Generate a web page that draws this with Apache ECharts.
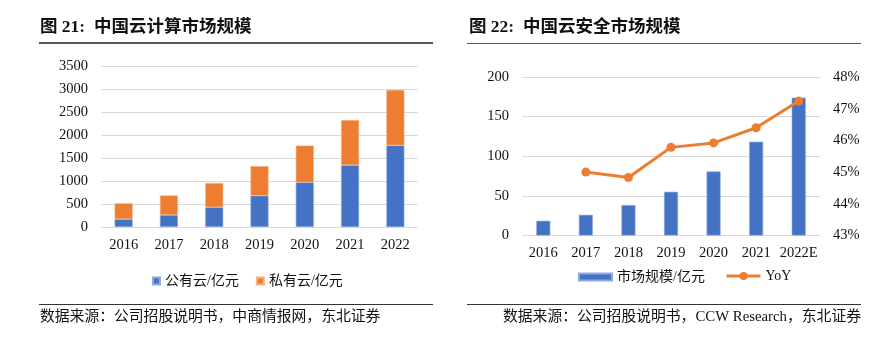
<!DOCTYPE html>
<html><head><meta charset="utf-8">
<script src="https://cdn.jsdelivr.net/npm/echarts@6/dist/echarts.min.js"></script>
<style>html,body{margin:0;padding:0;background:#fff}#c{width:888px;height:338px}</style>
</head><body><div id="c"></div>
<script>
const years1 = ['2016','2017','2018','2019','2020','2021','2022'];
const publicCloud = [170, 260, 430, 680, 970, 1345, 1775];
const privateCloud = [345, 425, 525, 645, 800, 980, 1205];
const years2 = ['2016','2017','2018','2019','2020','2021','2022E'];
const securityMarket = [18.6, 26.1, 38.4, 55.2, 80.8, 118.3, 173.9];
const yoy = [null, 45.0, 44.83, 45.78, 45.92, 46.40, 47.24];

const FONT = '"Liberation Serif","Noto Sans CJK SC",serif';
const BLUE = '#4472C4', ORANGE = '#ED7D31';
const lbl = {fontFamily: FONT, fontSize: 14.5, color: '#111'};
const legText = {fontFamily: FONT, fontSize: 14, color: '#111'};
const chart = echarts.init(document.getElementById('c'), null, {renderer: 'canvas'});
chart.setOption({
  animation: false,
  textStyle: {fontFamily: FONT},
  graphic: [
    {type: 'text', left: 40, top: 19, style: {text: '图 21:  中国云计算市场规模', font: 'bold 17.5px ' + FONT, fill: '#111'}},
    {type: 'line', shape: {x1: 39, y1: 43, x2: 433, y2: 43}, style: {stroke: '#595959', lineWidth: 2}},
    {type: 'text', left: 469, top: 19, style: {text: '图 22:  中国云安全市场规模', font: 'bold 17.5px ' + FONT, fill: '#111'}},
    {type: 'line', shape: {x1: 467, y1: 43.5, x2: 861, y2: 43.5}, style: {stroke: '#595959', lineWidth: 1}},
    {type: 'line', shape: {x1: 39, y1: 304.5, x2: 433, y2: 304.5}, style: {stroke: '#333', lineWidth: 1}},
    {type: 'line', shape: {x1: 467, y1: 304.5, x2: 861, y2: 304.5}, style: {stroke: '#333', lineWidth: 1}},
    {type: 'text', left: 40, top: 310, style: {text: '数据来源：公司招股说明书，中商情报网，东北证券', font: '14.8px ' + FONT, fill: '#111'}},
    {type: 'text', right: 27, top: 310, style: {text: '数据来源：公司招股说明书，CCW Research，东北证券', font: '14.8px ' + FONT, fill: '#111', align: 'right'}}
  ],
  legend: [
    {left: 147, top: 269, itemWidth: 7, itemHeight: 7, itemGap: 17, icon: 'rect',
     textStyle: legText, data: ['公有云/亿元', '私有云/亿元']},
    {left: 573, top: 265, itemWidth: 33, itemHeight: 7, icon: 'rect',
     textStyle: legText, data: ['市场规模/亿元']},
    {left: 720, top: 264, itemWidth: 34, itemHeight: 10,
     textStyle: legText, lineStyle: {width: 3},
     data: ['YoY']}
  ],
  grid: [
    {left: 101, top: 66, width: 317, height: 161, containLabel: false},
    {left: 522, top: 77, width: 298, height: 158.5, containLabel: false}
  ],
  xAxis: [
    {type: 'category', gridIndex: 0, data: years1, axisLine: {show: false}, axisTick: {show: false},
     axisLabel: Object.assign({margin: 11}, lbl)},
    {type: 'category', gridIndex: 1, data: years2, axisLine: {show: false}, axisTick: {show: false},
     axisLabel: Object.assign({margin: 10, interval: 0}, lbl)}
  ],
  yAxis: [
    {type: 'value', gridIndex: 0, min: 0, max: 3500, interval: 500, axisLine: {show: false}, axisTick: {show: false},
     splitLine: {lineStyle: {color: '#d9d9d9'}}, axisLabel: Object.assign({margin: 13, formatter: v => String(v)}, lbl)},
    {type: 'value', gridIndex: 1, min: 0, max: 200, interval: 50, axisLine: {show: false}, axisTick: {show: false},
     splitLine: {lineStyle: {color: '#d9d9d9'}}, axisLabel: Object.assign({margin: 13, formatter: v => String(v)}, lbl)},
    {type: 'value', gridIndex: 1, position: 'right', min: 43, max: 48, interval: 1, axisLine: {show: false}, axisTick: {show: false},
     splitLine: {show: false}, axisLabel: Object.assign({margin: 13, formatter: '{value}%'}, lbl)}
  ],
  series: [
    {name: '公有云/亿元', type: 'bar', stack: 'a', xAxisIndex: 0, yAxisIndex: 0, data: publicCloud, barWidth: 18,
     itemStyle: {color: BLUE, borderColor: '#8ea9db', borderWidth: 0.6}},
    {name: '私有云/亿元', type: 'bar', stack: 'a', xAxisIndex: 0, yAxisIndex: 0, data: privateCloud, barWidth: 18,
     itemStyle: {color: ORANGE, borderColor: '#f4b183', borderWidth: 0.6}},
    {name: '市场规模/亿元', type: 'bar', xAxisIndex: 1, yAxisIndex: 1, data: securityMarket, barWidth: 14,
     itemStyle: {color: BLUE, borderColor: '#8ea9db', borderWidth: 0.6}},
    {name: 'YoY', type: 'line', xAxisIndex: 1, yAxisIndex: 2, data: yoy, symbol: 'circle', symbolSize: 9,
     lineStyle: {color: ORANGE, width: 3}, itemStyle: {color: ORANGE}}
  ]
});
</script></body></html>
